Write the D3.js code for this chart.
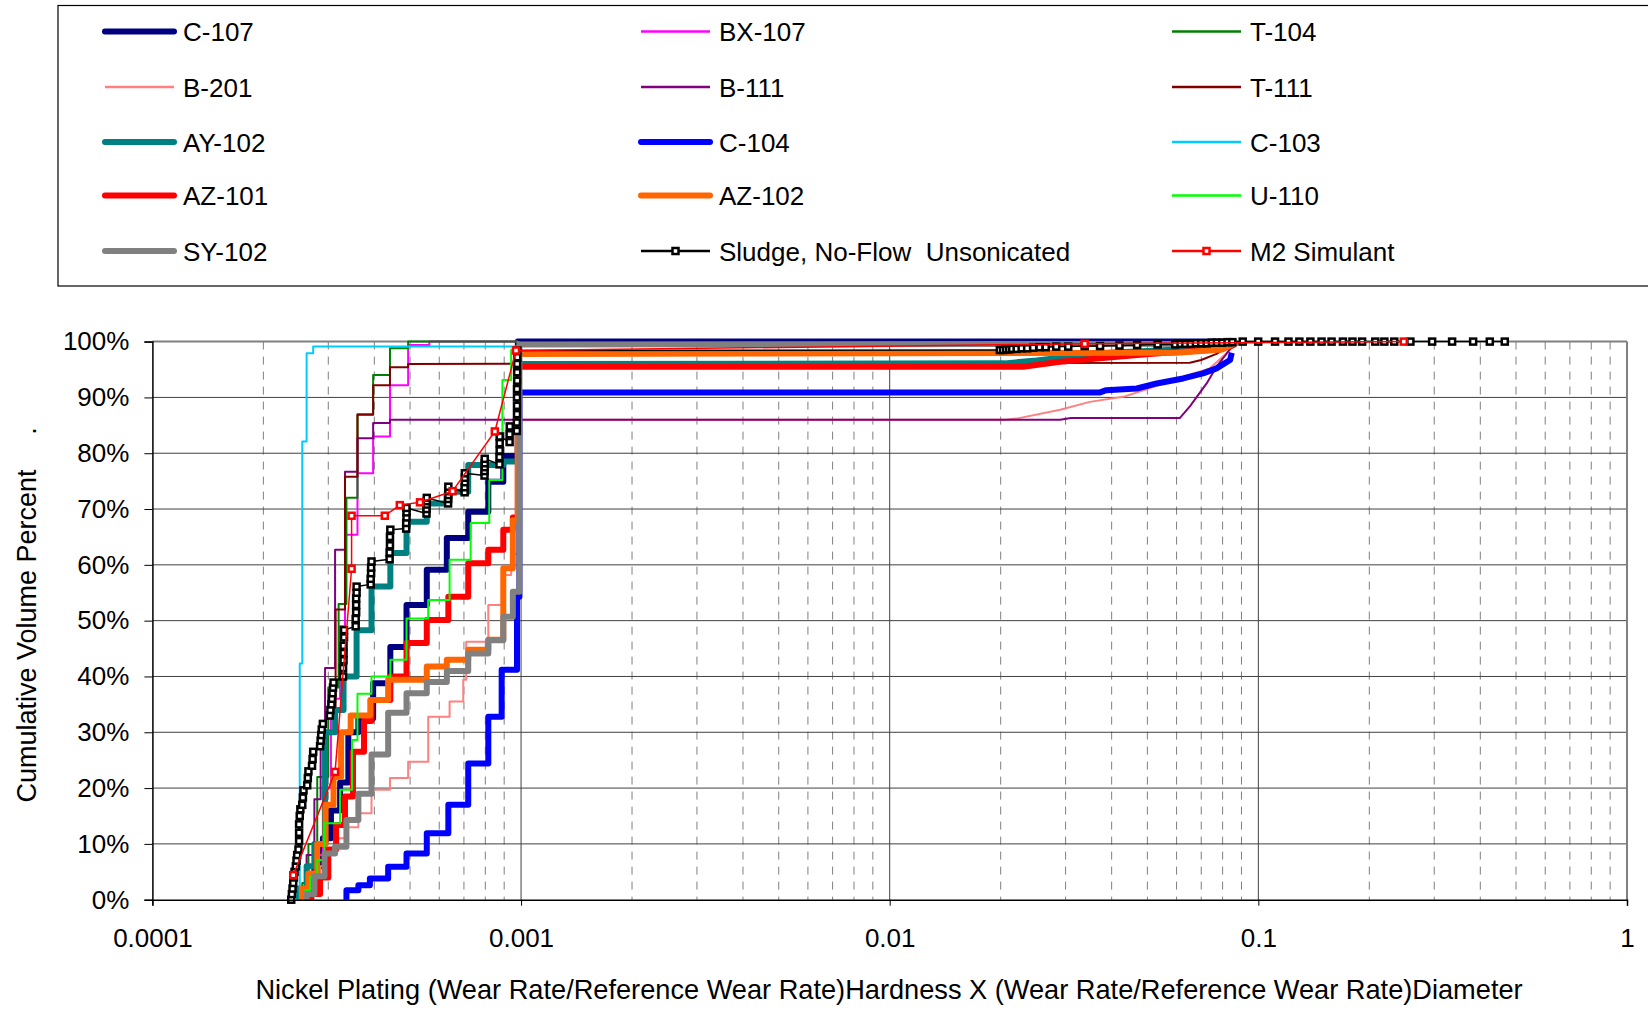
<!DOCTYPE html>
<html>
<head>
<meta charset="utf-8">
<script src="https://cdn.jsdelivr.net/npm/d3@7"></script>
<style>
body { margin: 0; background: #fff; }
text { font-family: "Liberation Sans", Arial, sans-serif; fill: #000; white-space: pre; }
</style>
</head>
<body>
<script>
// ---- data: steps are [wear ratio, cumulative % after the jump], tails are plain points
var seriesNames = ["C-107", "BX-107", "T-104", "B-201", "B-111", "T-111", "AY-102", "C-104",
    "C-103", "AZ-101", "AZ-102", "U-110", "SY-102", "Sludge, No-Flow  Unsonicated", "M2 Simulant"];
var seriesColors = ["#000080", "#ff00ff", "#008000", "#ff8080", "#800080", "#800000", "#008080", "#0000ff",
    "#00ccff", "#ff0000", "#ff6600", "#00ff00", "#808080", "#000000", "#ff0000"];
var seriesWidths = [6, 2, 2, 2, 2, 2, 6, 6, 2, 6, 6, 2, 6, 1.5, 1.5];

var c107Steps = [[0.000262,2],[0.000275,6],[0.00029,11],[0.000305,16],[0.000323,21],[0.00034,30],[0.000362,32.5],
    [0.000397,38.8],[0.000442,45.3],[0.000489,52.8],[0.000555,59.1],[0.000629,64.8],[0.000719,69.5],
    [0.000815,74.9],[0.000895,79.5],[0.00098,100]];
var c107Tail = [[0.085,100]];
var bx107Steps = [[0.00026,2],[0.000275,8],[0.00029,20],[0.000305,36],[0.000323,49],[0.000333,65.4],[0.00036,76.4],
    [0.000397,83],[0.000441,92.2],[0.000494,99.4],[0.000564,100]];
var bx107Tail = [[0.00098,100]];
var t104Steps = [[0.000255,3],[0.000265,10],[0.00028,22],[0.0003,38],[0.00032,53],[0.000336,72],[0.00036,87],
    [0.000397,94],[0.000441,98.8],[0.000494,100]];
var t104Tail = [[0.00098,100]];
var b201Steps = [[0.000265,2],[0.000285,6],[0.0003,9],[0.000315,11],[0.000336,13],[0.000362,15.5],[0.000393,19.7],
    [0.000441,21.8],[0.000494,24.7],[0.00056,32.8],[0.00064,35.5],[0.000697,39.4],[0.00071,46.2],
    [0.000815,52.8],[0.000895,58.2],[0.00094,62],[0.00099,86]];
var b201Tail = [[0.0205,86],[0.0221,86.2],[0.029,87.8],[0.0349,89.2],[0.043,90.1],[0.05,91.5],[0.0625,93.7],
    [0.0738,95.2],[0.0838,98.5],[0.087,100]];
var b111Steps = [[0.00025,2],[0.000262,8],[0.000275,18],[0.000286,29],[0.000294,41.5],[0.000313,62.7],
    [0.000333,76.7],[0.00036,82.7],[0.000397,85.4],[0.000441,86]];
var b111Tail = [[0.029,86],[0.031,86.3],[0.0612,86.3],[0.0652,88.4],[0.0724,92.5],[0.077,95.5],[0.0815,97.6],
    [0.0853,99.4],[0.087,100]];
var t111Steps = [[0.00026,3],[0.000275,10],[0.000294,30],[0.000314,52],[0.000333,75.8],[0.00036,86.9],
    [0.000397,92.2],[0.000441,95.4],[0.000494,96]];
var t111Tail = [[0.0652,96.2],[0.07,96.7],[0.077,97.8],[0.0853,99.7],[0.087,100]];
var ay102Steps = [[0.00025,2],[0.000262,6],[0.000275,10],[0.000294,30],[0.000313,34],[0.00033,40],[0.000358,48.3],
    [0.000393,56.1],[0.000442,62.1],[0.000489,67.7],[0.000555,71],[0.000629,73.1],[0.000719,77.9],
    [0.000895,78.5],[0.00098,96]];
var ay102Tail = [[0.0205,96.1],[0.025,96.6],[0.03,97.2],[0.0364,97.9],[0.05,98.3],[0.07,98.8],[0.085,100]];
var c104Steps = [[0.000336,1.7],[0.000362,2.6],[0.000389,3.8],[0.000436,5.9],[0.000489,8.3],[0.000555,11.9],
    [0.000635,17],[0.000719,24.4],[0.000815,32.8],[0.000886,41.2],[0.000975,54.3],[0.00099,90.9]];
var c104Tail = [[0.0372,90.9],[0.0387,91.3],[0.0468,91.6],[0.053,92.5],[0.0625,93.4],[0.0708,94.3],[0.077,95.2],
    [0.0838,96.7],[0.0847,98]];
var c103Steps = [[0.000251,42.3],[0.000255,82.1],[0.000262,97.9],[0.000273,99.1]];
var c103Tail = [[0.00098,99.1],[0.00099,100]];
var az101Steps = [[0.00027,1],[0.000285,4],[0.0003,9],[0.000315,13.4],[0.000333,18.5],[0.00035,26.5],[0.000375,32],
    [0.000393,35.8],[0.000442,40],[0.000489,46],[0.000555,50.1],[0.000635,54.3],[0.000719,60.3],
    [0.000815,62.7],[0.000895,66.3],[0.00095,68.5],[0.00098,95.5]];
var az101Tail = [[0.023,95.5],[0.029,96.4],[0.0372,97],[0.0469,97.6],[0.056,98],[0.0738,98.5],[0.0853,99.3],[0.088,100]];
var az102Steps = [[0.000255,2],[0.000265,4.7],[0.00028,10],[0.000295,17],[0.00031,22],[0.000325,30],[0.000345,33],
    [0.00039,35.8],[0.000436,39.4],[0.000555,41.8],[0.000629,43],[0.000719,44.8],[0.000815,46.6],
    [0.000895,59.4],[0.00095,68],[0.00098,97.8]];
var az102Tail = [[0.06,98],[0.08,98.6],[0.085,99.5],[0.088,100]];
var u110Steps = [[0.00026,1.7],[0.000268,4.1],[0.00028,7.1],[0.000293,13.7],[0.000323,19.7],[0.000348,28.6],
    [0.00036,36.9],[0.000393,40],[0.000442,43],[0.000489,50.4],[0.00056,53.7],[0.00064,60.9],[0.00073,67.5],
    [0.00082,75.2],[0.00089,93.1],[0.00094,98.5],[0.00098,100]];
var u110Tail = [];
var sy102Steps = [[0.000262,1],[0.000275,4.2],[0.000293,8.3],[0.000313,9.5],[0.000336,14.3],[0.000362,19],
    [0.000393,26],[0.000436,33.5],[0.000489,37],[0.000555,39],[0.000629,41],[0.000719,44.1],[0.000815,46.5],
    [0.000895,50.7],[0.00095,55.2],[0.00099,99.5]];
var sy102Tail = [[0.085,99.6],[0.088,100]];

var sludgePoints = [[0.000238,0],[0.000239,1],[0.00024,2],[0.000241,3],[0.000242,4],[0.000243,5],[0.000245,6],
    [0.000246,7],[0.000247,8],[0.000249,9],[0.00025,10.5],[0.00025,12],[0.00025,13.5],[0.000251,15],[0.000252,16.2],
    [0.000255,17],[0.000256,18.3],[0.000257,19.6],[0.000263,20.5],[0.000264,21.8],[0.000265,23],
    [0.000271,24],[0.000272,25.2],[0.000273,26.5],[0.000285,27.5],[0.000286,28.5],[0.000287,29.5],
    [0.000288,30.5],[0.00029,31.5],[0.000303,33],[0.000304,34],[0.000306,35],[0.000307,36],[0.000308,37],
    [0.000309,38],[0.00031,38.9],[0.000329,40],[0.000329,41.5],[0.00033,42.9],[0.00033,44.2],[0.00033,45.5],
    [0.000331,47],[0.000331,48.3],[0.000356,49],[0.000356,50.3],[0.000357,51.5],[0.000357,52.8],[0.000357,54],
    [0.000358,55],[0.000358,56.1],[0.000391,56.5],[0.000391,57.5],[0.000392,58.5],[0.000392,59.5],[0.000393,60.6],
    [0.00044,61],[0.00044,62.2],[0.000441,63.5],[0.000441,65],[0.000442,66.3],
    [0.000488,66.5],[0.000488,67.5],[0.000489,68.5],[0.000489,69.4],[0.000489,70.2],
    [0.000554,69.2],[0.000554,70],[0.000555,70.8],[0.000555,71.4],[0.000555,72],
    [0.000634,71],[0.000634,71.8],[0.000635,72.5],[0.000635,73.2],[0.000635,74],
    [0.000703,73],[0.000703,73.9],[0.000704,74.8],[0.000704,75.6],[0.000704,76.4],
    [0.000796,76],[0.000796,76.8],[0.000797,77.5],[0.000797,78.2],[0.000797,79],
    [0.000874,78],[0.000874,79.3],[0.000875,80.5],[0.000875,81.8],[0.000875,83],
    [0.000931,82],[0.000931,83.4],[0.000932,84.8],[0.000974,84],[0.000974,85.5],[0.000975,87],[0.000975,88.5],
    [0.000975,90],[0.000975,91.5],[0.000976,93],[0.000976,94.5],[0.000976,96],[0.000977,97.2],[0.000977,98.4],
    [0.0199,98.5],[0.0203,98.5],[0.0207,98.6],[0.0211,98.6],[0.0215,98.7],[0.0221,98.7],
    [0.0228,98.8],[0.0236,98.8],[0.0245,98.9],[0.0255,99],[0.0265,99],[0.0283,99.1],[0.0305,99.1],[0.0338,99.2],
    [0.0372,99.2],[0.042,99.3],[0.0469,99.4],[0.0533,99.5],[0.0595,99.5],[0.0615,99.6],[0.0634,99.6],
    [0.0655,99.6],[0.0677,99.7],[0.07,99.7],[0.0724,99.7],[0.0748,99.8],[0.0772,99.8],[0.0798,99.8],
    [0.0825,99.9],[0.085,99.9],[0.0907,100],[0.0999,100],[0.111,100],[0.1207,100],[0.1292,100],[0.1384,100],
    [0.1484,100],[0.158,100],[0.1696,100],[0.18,100],[0.1912,100],[0.2076,100],[0.2197,100],[0.2337,100],
    [0.2585,100],[0.2961,100],[0.3354,100],[0.3825,100],[0.4244,100],[0.4661,100]];
var m2Points = [[0.000241,4.4],[0.000313,22.9],[0.000347,59.3],[0.000347,68.8],[0.000427,68.8],[0.000469,70.7],
    [0.000532,71.2],[0.000652,73.2],[0.000849,83.9],[0.000969,98.4],[0.0338,99.6],[0.248,100]];

var xTicks = [0.0001, 0.001, 0.01, 0.1, 1];
var xTickLabels = ["0.0001", "0.001", "0.01", "0.1", "1"];
var yTicks = [0, 10, 20, 30, 40, 50, 60, 70, 80, 90, 100];

// turn a step list into corner points, then add the tail
function stairs(steps, tail) {
    var pts = [[steps[0][0], 0]];
    steps.forEach(function(s, i) {
        if (i > 0) pts.push([s[0], steps[i - 1][1]]);
        pts.push([s[0], s[1]]);
    });
    return pts.concat(tail);
}

var seriesPoints = [
    stairs(c107Steps, c107Tail), stairs(bx107Steps, bx107Tail), stairs(t104Steps, t104Tail),
    stairs(b201Steps, b201Tail), stairs(b111Steps, b111Tail), stairs(t111Steps, t111Tail),
    stairs(ay102Steps, ay102Tail), stairs(c104Steps, c104Tail), stairs(c103Steps, c103Tail),
    stairs(az101Steps, az101Tail), stairs(az102Steps, az102Tail), stairs(u110Steps, u110Tail),
    stairs(sy102Steps, sy102Tail), sludgePoints, m2Points
];
var hasMarkers = [false,false,false,false,false,false,false,false,false,false,false,false,false,true,true];

var W = 1648, H = 1011;
var plotL = 152.4, plotR = 1627, plotT = 341.6, plotB = 899.7;

var svg = d3.select("body").append("svg")
    .attr("width", W)
    .attr("height", H);

var x = d3.scaleLog().domain([0.0001, 1]).range([plotL, plotR]);
var y = d3.scaleLinear().domain([0, 100]).range([plotB, plotT]);

// minor dashed verticals
var minor = [];
[0.0001, 0.001, 0.01, 0.1].forEach(function(d) {
    for (var k = 2; k <= 9; k++) minor.push(d * k);
});
svg.append("g").selectAll("line")
    .data(minor)
    .enter()
    .append("line")
    .attr("x1", function(d) { return x(d); })
    .attr("x2", function(d) { return x(d); })
    .attr("y1", plotT)
    .attr("y2", plotB)
    .attr("stroke", "#7f7f7f")
    .attr("stroke-width", 1)
    .attr("stroke-dasharray", "8,7");

// major gridlines
svg.append("g").selectAll("line")
    .data(yTicks.slice(1))
    .enter()
    .append("line")
    .attr("x1", plotL)
    .attr("x2", plotR)
    .attr("y1", function(d) { return y(d); })
    .attr("y2", function(d) { return y(d); })
    .attr("stroke", function(d) { return d == 100 ? "#808080" : "#404040"; })
    .attr("stroke-width", function(d) { return d == 100 ? 2 : 1; });

svg.append("g").selectAll("line")
    .data(xTicks.slice(1, 4))
    .enter()
    .append("line")
    .attr("x1", function(d) { return x(d); })
    .attr("x2", function(d) { return x(d); })
    .attr("y1", plotT)
    .attr("y2", plotB)
    .attr("stroke", "#404040")
    .attr("stroke-width", 1);

svg.append("line")
    .attr("x1", plotR).attr("x2", plotR)
    .attr("y1", plotT).attr("y2", plotB)
    .attr("stroke", "#808080").attr("stroke-width", 2);

// series
var line = d3.line()
    .x(function(d) { return x(d[0]); })
    .y(function(d) { return y(d[1]); });

seriesPoints.forEach(function(pts, i) {
    svg.append("path")
        .datum(pts)
        .attr("d", line)
        .attr("fill", "none")
        .attr("stroke", seriesColors[i])
        .attr("stroke-width", seriesWidths[i])
        .attr("stroke-linejoin", "round");
    if (hasMarkers[i]) {
        svg.append("g").selectAll("rect")
            .data(pts)
            .enter()
            .append("rect")
            .attr("x", function(d) { return x(d[0]) - 3; })
            .attr("y", function(d) { return y(d[1]) - 3; })
            .attr("width", 6)
            .attr("height", 6)
            .attr("fill", "#fff")
            .attr("stroke", seriesColors[i])
            .attr("stroke-width", 2.5);
    }
});

// axes
var xAxis = svg.append("g")
    .attr("transform", "translate(0," + plotB + ")")
    .call(d3.axisBottom(x).tickValues(xTicks).tickFormat(function(d, i) { return xTickLabels[i]; })
        .tickSizeOuter(0).tickSize(6).tickPadding(23));
var yAxis = svg.append("g")
    .attr("transform", "translate(" + plotL + ",0)")
    .call(d3.axisLeft(y).tickValues(yTicks).tickFormat(function(d) { return d + "%"; })
        .tickSizeOuter(0).tickSize(8).tickPadding(15));
[xAxis, yAxis].forEach(function(a) {
    a.select(".domain").attr("stroke", "#000").attr("stroke-width", 1.5);
    a.selectAll(".tick line").attr("stroke", "#000");
    a.selectAll("text").attr("font-family", "Liberation Sans, Arial, sans-serif")
        .attr("font-size", 26).attr("fill", "#000");
});

svg.append("text")
    .attr("x", 889)
    .attr("y", 999)
    .attr("text-anchor", "middle")
    .attr("font-size", 27.2)
    .text("Nickel Plating (Wear Rate/Reference Wear Rate)Hardness X (Wear Rate/Reference Wear Rate)Diameter");

svg.append("text")
    .attr("transform", "translate(36,636) rotate(-90)")
    .attr("text-anchor", "middle")
    .attr("font-size", 27)
    .text("Cumulative Volume Percent");
svg.append("text")
    .attr("transform", "translate(36,431) rotate(-90)")
    .attr("text-anchor", "middle")
    .attr("font-size", 27)
    .text(".");

// legend
svg.append("rect")
    .attr("x", 58).attr("y", 5.5)
    .attr("width", 1620).attr("height", 280.5)
    .attr("fill", "#fff")
    .attr("stroke", "#000")
    .attr("stroke-width", 1.2);

var colX = [105, 641, 1172];
var rowY = [31.5, 87, 142, 195.5, 251];
seriesNames.forEach(function(name, i) {
    var cx = colX[i % 3], cy = rowY[Math.floor(i / 3)];
    var g = svg.append("g");
    g.append("line")
        .attr("x1", cx).attr("x2", cx + 69)
        .attr("y1", cy).attr("y2", cy)
        .attr("stroke", seriesColors[i])
        .attr("stroke-width", seriesWidths[i] == 6 ? 6 : 2.5)
        .attr("stroke-linecap", seriesWidths[i] == 6 ? "round" : "butt");
    if (hasMarkers[i]) {
        g.append("rect")
            .attr("x", cx + 31.5).attr("y", cy - 3)
            .attr("width", 6).attr("height", 6)
            .attr("fill", "#fff")
            .attr("stroke", seriesColors[i])
            .attr("stroke-width", 2.5);
    }
    g.append("text")
        .attr("x", cx + 78)
        .attr("y", cy + 9.5)
        .attr("font-size", 26)
        .text(name);
});
</script>
</body>
</html>
